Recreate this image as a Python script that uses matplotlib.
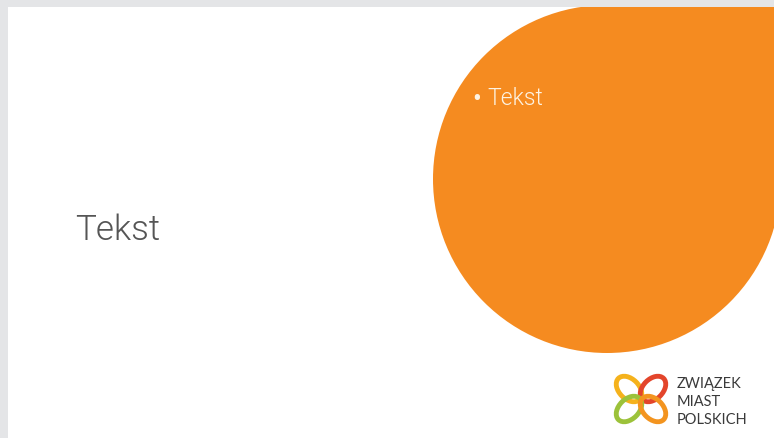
import matplotlib
matplotlib.use("Agg")
import matplotlib.pyplot as plt
from matplotlib.patches import Rectangle, Circle, Ellipse

# Content
title_text = "Tekst"
bullet_items = ["Tekst"]
logo_lines = ["ZWIĄZEK", "MIAST", "POLSKICH"]
ring_colors = ["#f5b21c", "#e3452b", "#9cc23a", "#f3941f"]

W, H = 774, 438
fig = plt.figure(figsize=(W / 100, H / 100), dpi=100)
fig.patch.set_facecolor("#e4e5e7")
ax = fig.add_axes([0, 0, 1, 1])
ax.set_xlim(0, W)
ax.set_ylim(H, 0)
ax.axis("off")

# white slide area
slide = Rectangle((8, 7), W - 8, H - 7, facecolor="white", edgecolor="none")
ax.add_patch(slide)

# orange teardrop shape (circle + square top-right quadrant), clipped to slide
cx, cy, r = 607, 179, 174
orange = "#f58b20"
circ = Circle((cx, cy), r, facecolor=orange, edgecolor="none")
quad = Rectangle((cx, cy - r), r, r, facecolor=orange, edgecolor="none")
for p in (circ, quad):
    ax.add_patch(p)
    p.set_clip_path(slide)

# left title
ax.text(75, 240, title_text, fontsize=25.2, family=["Roboto", "DejaVu Sans"],
        fontweight=300, color="#555555", va="baseline", ha="left")

# bullet on circle
for i, item in enumerate(bullet_items):
    y = 105 + i * 30
    ax.text(472, y + 2, "•", fontsize=19, color="#fdf3e3", va="baseline", ha="left",
            family=["Roboto", "DejaVu Sans"])
    ax.text(487, y, item, fontsize=16.5, color="#fdf3e3", va="baseline", ha="left",
            family=["Roboto", "DejaVu Sans"], fontweight=300)

# logo rings (four interlocking petals)
ring_pos = [(629, 389, 30, 20, 45), (653, 389, 30, 20, -45),
            (629, 409, 30, 20, -45), (653, 409, 30, 20, 45)]
for (ex, ey, w, h, ang), col in zip(ring_pos, ring_colors):
    ax.add_patch(Ellipse((ex, ey), w, h, angle=ang, facecolor="none",
                         edgecolor=col, linewidth=3.5))

# logo text
for i, line in enumerate(logo_lines):
    ax.text(677, 388 + i * 18, line, fontsize=10.5, color="#3a3a3a",
            family=["Lato", "DejaVu Sans"], va="baseline", ha="left")

fig.savefig("out.png", dpi=100, facecolor=fig.get_facecolor())
